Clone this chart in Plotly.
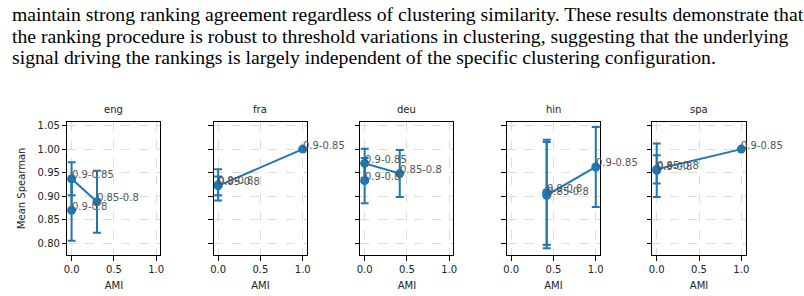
import plotly.graph_objects as go

W, H = 804, 296

paragraph = [
    "maintain strong ranking agreement regardless of clustering similarity. These results demonstrate that",
    "the ranking procedure is robust to threshold variations in clustering, suggesting that the underlying",
    "signal driving the rankings is largely independent of the specific clustering configuration.",
]

languages = ["eng", "fra", "deu", "hin", "spa"]
labels = {
    "eng": ["0.9-0.8", "0.9-0.85", "0.85-0.8"],
    "fra": ["0.9-0.8", "0.85-0.8", "0.9-0.85"],
    "deu": ["0.9-0.8", "0.9-0.85", "0.85-0.8"],
    "hin": ["0.9-0.8", "0.85-0.8", "0.9-0.85"],
    "spa": ["0.9-0.8", "0.85-0.8", "0.9-0.85"],
}
ami = {
    "eng": [0.0, 0.0, 0.30],
    "fra": [0.0, 0.0, 1.0],
    "deu": [0.0, 0.0, 0.415],
    "hin": [0.42, 0.42, 1.0],
    "spa": [0.0, 0.0, 1.0],
}
mean_spearman = {
    "eng": [0.870, 0.937, 0.888],
    "fra": [0.924, 0.922, 1.000],
    "deu": [0.933, 0.970, 0.948],
    "hin": [0.908, 0.902, 0.962],
    "spa": [0.955, 0.957, 1.000],
}
std_spearman = {
    "eng": [0.065, 0.035, 0.066],
    "fra": [0.033, 0.020, 0.0],
    "deu": [0.048, 0.031, 0.050],
    "hin": [0.112, 0.113, 0.085],
    "spa": [0.057, 0.030, 0.0],
}

y_ticks = [0.80, 0.85, 0.90, 0.95, 1.00, 1.05]
x_ticks = [0.0, 0.5, 1.0]

BLUE = "#1f77b4"
FONT = "DejaVu Sans"

fig = go.Figure()

top_px, bot_px = 121, 255
ydom = [1 - bot_px / H, 1 - top_px / H]
panel_w = 94
lefts = [64, 212, 360, 508, 655]

annotations = []
for i, lang in enumerate(languages):
    n = i + 1
    xa = "x" if n == 1 else f"x{n}"
    ya = "y" if n == 1 else f"y{n}"
    fig.add_trace(go.Scatter(
        x=ami[lang], y=mean_spearman[lang],
        mode="lines+markers",
        line=dict(color=BLUE, width=2),
        marker=dict(color=BLUE, size=9),
        error_y=dict(type="data", array=std_spearman[lang], visible=True,
                     color=BLUE, thickness=2, width=4),
        xaxis=xa, yaxis=ya, showlegend=False, cliponaxis=False,
    ))
    for xv, yv, lab in zip(ami[lang], mean_spearman[lang], labels[lang]):
        annotations.append(dict(
            x=xv, y=yv, xref=xa, yref=ya, text=lab, showarrow=False,
            xanchor="left", yanchor="middle", yshift=4, xshift=-2,
            font=dict(family=FONT, size=10, color="#555555"),
        ))
    x0 = lefts[i] / W
    x1 = (lefts[i] + panel_w) / W
    common_grid = dict(showgrid=True, gridcolor="#dcdcdc", griddash="dash",
                       gridwidth=1, zeroline=False, showline=True,
                       linecolor="black", linewidth=1, mirror=True,
                       ticks="outside", ticklen=4.5, tickwidth=1,
                       tickcolor="black",
                       tickfont=dict(family=FONT, size=10, color="#222222"))
    fig.update_layout({
        ("xaxis" if n == 1 else f"xaxis{n}"): dict(
            domain=[x0, x1], anchor=ya, range=[-0.05, 1.05],
            tickvals=x_ticks, tickformat=".1f",
            title=dict(text="AMI", font=dict(family=FONT, size=10, color="#222222"),
                       standoff=8),
            **common_grid),
        ("yaxis" if n == 1 else f"yaxis{n}"): dict(
            domain=ydom, anchor=xa, range=[0.7746, 1.0585],
            tickvals=y_ticks, tickformat=".2f", showticklabels=(n == 1),
            title=dict(text="Mean Spearman" if n == 1 else "",
                       font=dict(family=FONT, size=10, color="#222222"),
                       standoff=10),
            **common_grid),
    })
    annotations.append(dict(
        x=(x0 + x1) / 2, y=1 - 109 / H, xref="paper", yref="paper",
        text=lang, showarrow=False, xanchor="center", yanchor="middle",
        font=dict(family=FONT, size=10, color="#222222"),
    ))

line_y = [13, 35, 56]
for txt, yy in zip(paragraph, line_y):
    annotations.append(dict(
        x=6 / W, y=1 - yy / H, xref="paper", yref="paper", text=txt,
        showarrow=False, xanchor="left", yanchor="middle",
        font=dict(family="Liberation Serif", size=19.7, color="black"),
    ))

fig.update_layout(
    width=W, height=H, autosize=False,
    margin=dict(l=0, r=0, t=0, b=0),
    paper_bgcolor="white", plot_bgcolor="white",
    annotations=annotations,
)

fig.write_html("out.html")
